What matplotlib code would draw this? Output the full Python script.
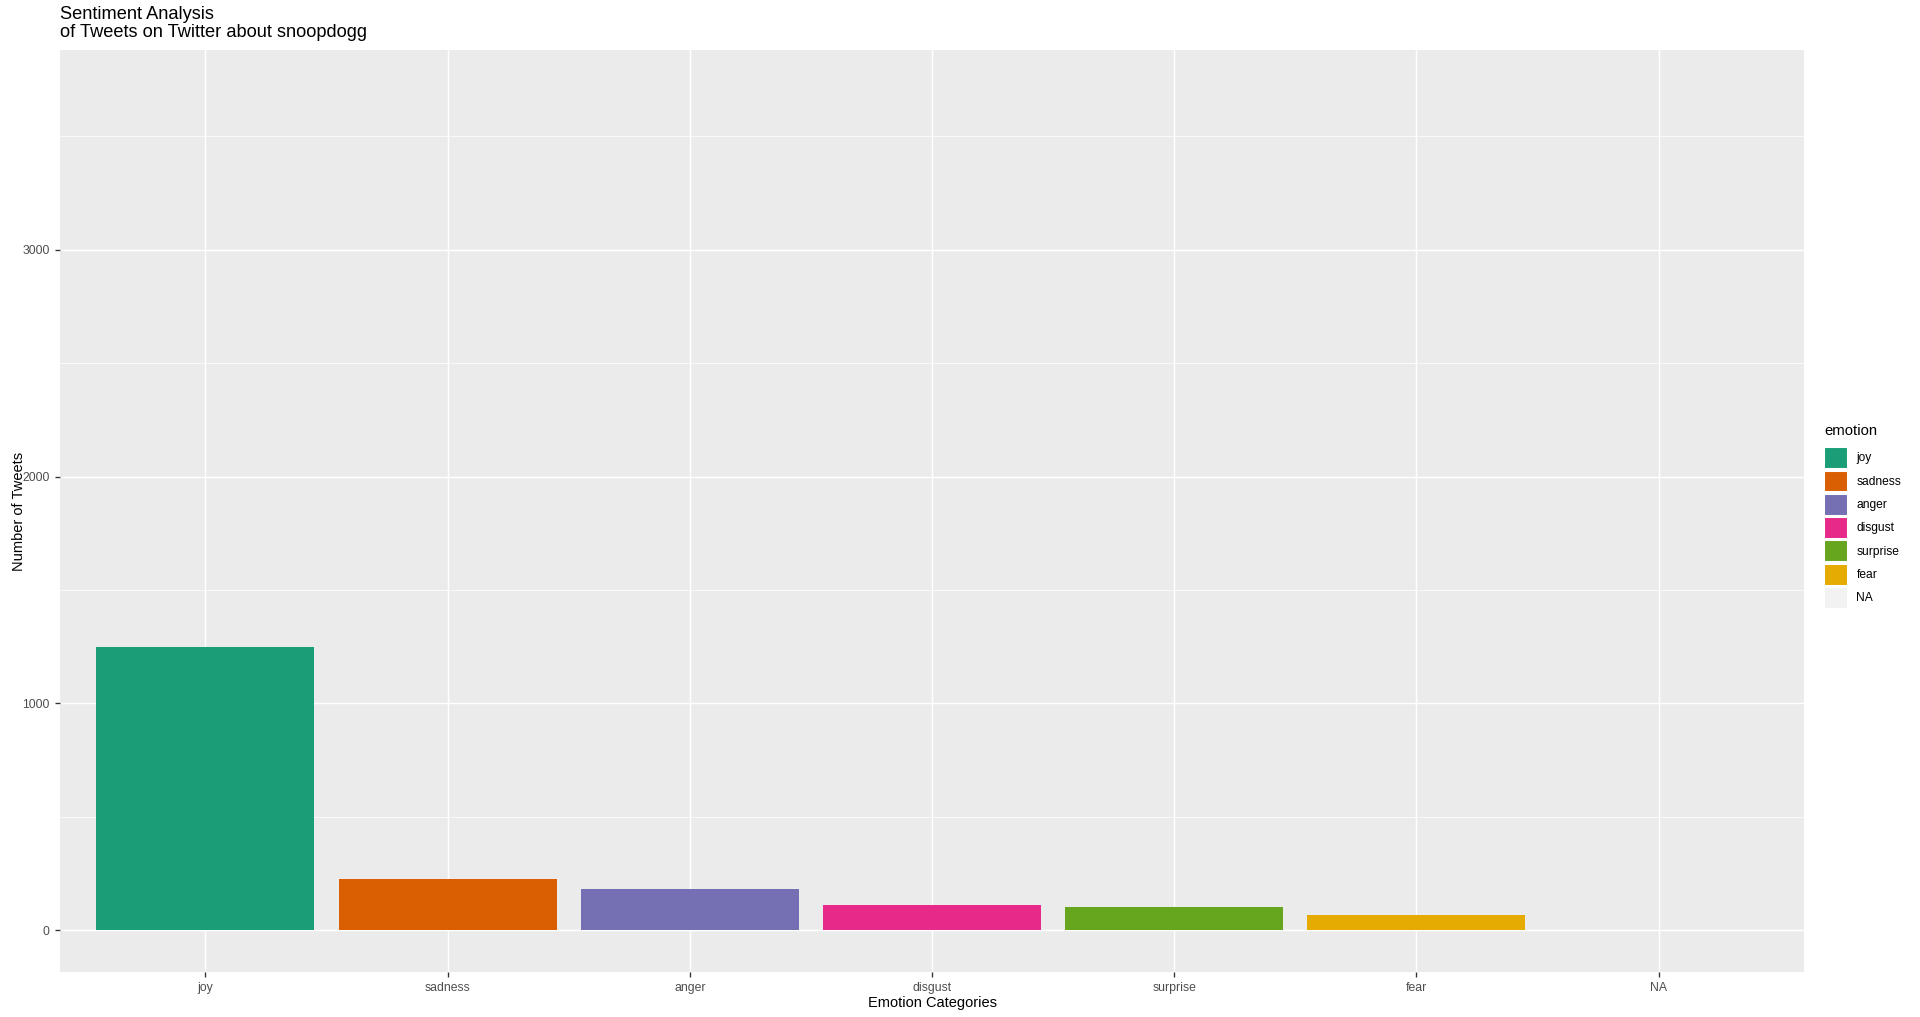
import matplotlib
matplotlib.use("Agg")
import matplotlib.pyplot as plt
from matplotlib.patches import Patch
import numpy as np

plt.rcParams['font.family'] = ['Liberation Sans', 'DejaVu Sans']

categories = ["joy", "sadness", "anger", "disgust", "surprise", "fear", "NA"]
counts = [1250, 225, 181, 109, 101, 67, 3696]
colors = ["#1B9E77", "#D95F02", "#7570B3", "#E7298A", "#66A61E", "#E6AB02", "none"]
legend_colors = ["#1B9E77", "#D95F02", "#7570B3", "#E7298A", "#66A61E", "#E6AB02", "#F2F2F2"]
yticks = [0, 1000, 2000, 3000]
minor_yticks = [500, 1500, 2500, 3500]

DPI = 96
W, H = 1920, 1017
fig = plt.figure(figsize=(W / DPI, H / DPI), dpi=DPI)
fig.patch.set_facecolor("white")

left, right, top, bottom = 60, 1804, 50, 972
ax = fig.add_axes([left / W, 1 - bottom / H, (right - left) / W, (bottom - top) / H])
ax.set_facecolor("#EBEBEB")

x = np.arange(1, len(categories) + 1)
ymax = max(counts)
ax.set_ylim(-0.05 * ymax, 1.05 * ymax)
ax.set_xlim(0.4, len(categories) + 0.6)

# grid
for v in minor_yticks:
    ax.axhline(v, color="white", lw=0.55, zorder=1)
for v in yticks:
    ax.axhline(v, color="white", lw=1.1, zorder=1)
for v in x:
    ax.axvline(v, color="white", lw=1.1, zorder=1)

ax.bar(x, counts, width=0.9, color=colors, zorder=2, linewidth=0)

for s in ax.spines.values():
    s.set_visible(False)

ax.set_xticks(x)
ax.set_xticklabels(categories)
ax.set_yticks(yticks)
ax.set_yticklabels([str(v) for v in yticks])
ax.tick_params(axis="both", colors="#333333", labelcolor="#4D4D4D", labelsize=9.2,
               length=3.7, width=1.0, direction="out")
ax.tick_params(axis="x", pad=4)
ax.tick_params(axis="y", pad=4)

ax.set_xlabel("Emotion Categories", fontsize=11, color="black", labelpad=1.5)
ax.set_ylabel("Number of Tweets", fontsize=11, color="black", labelpad=-2.5)

fig.text(left / W, 1 - 6 / H, "Sentiment Analysis\nof Tweets on Twitter about snoopdogg",
         fontsize=13.7, color="black", ha="left", va="top", linespacing=1.08)

handles = [Patch(facecolor=c, edgecolor="white", linewidth=0.8) for c in legend_colors]
leg = fig.legend(handles, categories, title="emotion", loc="upper left",
                 bbox_to_anchor=(1824 / W, 1 - 424 / H), frameon=False,
                 fontsize=9.0, title_fontsize=11.2, handlelength=1.95, handleheight=2.3,
                 labelspacing=0.2, handletextpad=0.75, borderpad=0, borderaxespad=0,
                 alignment="left")
leg._legend_box.sep = 7

fig.savefig("out.png", dpi=DPI)
